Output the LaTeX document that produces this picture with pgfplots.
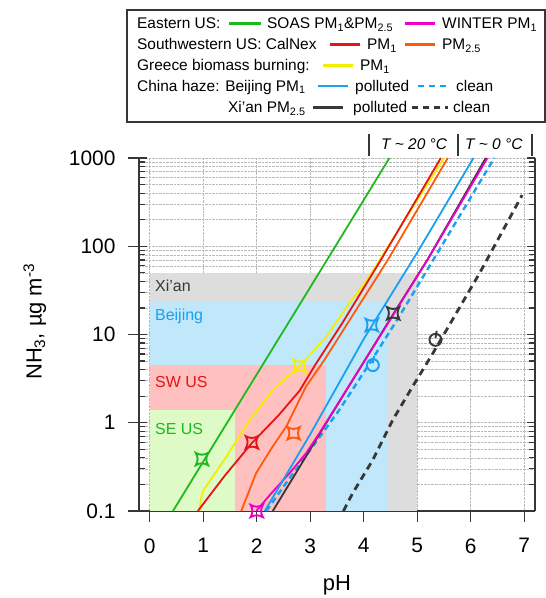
\documentclass[border=0pt]{standalone}
\usepackage{fontspec}
\setmainfont{Liberation Sans}
\usepackage{pgfplots}
\pgfplotsset{compat=1.18}
\definecolor{cgreen}{RGB}{30,185,30}
\definecolor{cmag}{RGB}{235,0,200}
\definecolor{cred}{RGB}{230,20,20}
\definecolor{corange}{RGB}{255,90,10}
\definecolor{cyellow}{RGB}{240,240,0}
\definecolor{cblue}{RGB}{25,160,240}
\definecolor{cblack}{RGB}{55,55,55}
\definecolor{rgray}{RGB}{221,221,221}
\definecolor{rblue}{RGB}{192,232,250}
\definecolor{rpink}{RGB}{255,192,192}
\definecolor{rgreen}{RGB}{222,250,198}
\pgfdeclareplotmark{cstar}{%
 \pgfpathmoveto{\pgfqpoint{\pgfplotmarksize}{\pgfplotmarksize}}%
 \pgfpathquadraticcurveto{\pgfqpoint{0pt}{0.4\pgfplotmarksize}}{\pgfqpoint{-\pgfplotmarksize}{\pgfplotmarksize}}%
 \pgfpathquadraticcurveto{\pgfqpoint{-0.4\pgfplotmarksize}{0pt}}{\pgfqpoint{-\pgfplotmarksize}{-\pgfplotmarksize}}%
 \pgfpathquadraticcurveto{\pgfqpoint{0pt}{-0.4\pgfplotmarksize}}{\pgfqpoint{\pgfplotmarksize}{-\pgfplotmarksize}}%
 \pgfpathquadraticcurveto{\pgfqpoint{0.4\pgfplotmarksize}{0pt}}{\pgfqpoint{\pgfplotmarksize}{\pgfplotmarksize}}%
 \pgfpathclose\pgfusepathqstroke}
\pgfdeclareplotmark{qcirc}{%
 \pgfpathcircle{\pgfpointorigin}{\pgfplotmarksize}\pgfusepathqstroke
 \pgfpathmoveto{\pgfqpoint{0pt}{0.3\pgfplotmarksize}}%
 \pgfpathlineto{\pgfqpoint{0.2\pgfplotmarksize}{1.5\pgfplotmarksize}}\pgfusepathqstroke}
\newcommand\lf{\fontsize{15.5}{18}\selectfont}
\begin{document}
\begin{tikzpicture}
\path[use as bounding box] (0,0) rectangle (546bp,598bp);
\begin{axis}[at={(139bp,87bp)}, anchor=south west, scale only axis,
  width=396bp, height=353bp,
  xmin=-0.2, xmax=7.2, ymin=0.1, ymax=1000, ymode=log,
  axis x line*=bottom, axis y line*=left,
  axis line style={line width=1.3bp, cblack},
  tick align=outside, major tick length=11bp, minor tick length=0pt,
  tick style={line width=1.2bp, cblack},
  xtick={0,...,7}, xticklabels={0,1,2,3,4,5,6,7},
  ytick={0.1,1,10,100,1000}, yticklabels={0.1,1,10,100,1000},
  xmajorgrids, ymajorgrids, yminorgrids,
  major grid style={densely dotted, gray!55, line width=0.6bp},
  minor grid style={densely dotted, gray!55, line width=0.6bp},
  ticklabel style={font=\fontsize{21}{25}\selectfont},
  xticklabel style={yshift=-13bp},
  yticklabel style={xshift=-9bp},
  /pgf/number format/assume math mode=true,
  clip mode=individual]
\addplot[fill=rgray, draw=none] coordinates {(0,0.1)(5,0.1)(5,50)(0,50)} -- cycle;
\addplot[fill=rblue, draw=none] coordinates {(0,0.1)(4.45,0.1)(4.45,23.5)(0,23.5)} -- cycle;
\addplot[fill=rpink, draw=none] coordinates {(0,0.1)(3.3,0.1)(3.3,4.5)(0,4.5)} -- cycle;
\addplot[fill=rgreen, draw=none] coordinates {(0,0.1)(1.6,0.1)(1.6,1.39)(0,1.39)} -- cycle;
% Xi'an clean
\addplot[cblack, line width=2.8bp, dash pattern=on 7bp off 5bp] coordinates {(3.62,0.1)(3.79,0.158)(4.17,0.38)(4.54,1.07)(4.91,2.56)(5.29,6.1)(6.16,49)(6.96,380)};
% Beijing clean
\addplot[cblue, line width=2.4bp, dash pattern=on 6bp off 4bp] coordinates {(2.18,0.1)(2.6,0.23)(3.05,0.54)(3.54,1.39)(4.1,4.6)(4.66,15.9)(5.5,112)(6.44,1000)};
% Xi'an polluted
\addplot[cblack, line width=1.8bp] coordinates {(2.3,0.1)(2.7,0.25)(3.17,0.74)(4.55,17)(5.2,72)(6.28,1000)};
% WINTER
\addplot[cmag, line width=1.8bp] coordinates {(1.99,0.1)(2.27,0.158)(2.61,0.267)(2.92,0.45)(3.17,0.76)(4.2,7.6)(5.19,70)(6.31,1000)};
% Beijing polluted
\addplot[cblue, line width=1.8bp] coordinates {(2.15,0.1)(3.0,0.74)(4.0,8.9)(5.0,85)(6.05,1000)};
% CalNex PM2.5
\addplot[corange, line width=1.8bp] coordinates {(1.71,0.1)(1.99,0.27)(2.30,0.54)(2.55,0.9)(2.92,2.57)(3.26,5.1)(4.45,70)(5.57,1000)};
% Greece
\addplot[cyellow, line width=1.8bp] coordinates {(0.93,0.1)(0.96,0.14)(1.0,0.17)(1.43,0.41)(1.87,1.07)(2.30,2.35)(2.80,4.4)(3.30,9.4)(3.73,22.6)(4.04,39.8)(5.50,1000)};
% CalNex PM1
\addplot[cred, line width=1.8bp] coordinates {(0.90,0.1)(1.4,0.25)(1.91,0.59)(2.4,1.2)(2.8,2.3)(3.09,4.5)(3.6,13.5)(4.32,70)(5.44,1000)};
% SOAS
\addplot[cgreen, line width=1.8bp] coordinates {(0.435,0.1)(1.5,1.13)(2.5,11.0)(3.5,107)(4.48,1000)};
% markers
\addplot[only marks, mark=cstar, mark size=6.2bp, cgreen, line width=1.9bp] coordinates {(0.976,0.388)};
\addplot[only marks, mark=cstar, mark size=6.2bp, cred, line width=1.9bp] coordinates {(1.91,0.60)};
\addplot[only marks, mark=cstar, mark size=6.2bp, corange, line width=1.9bp] coordinates {(2.69,0.76)};
\addplot[only marks, mark=cstar, mark size=6.2bp, cyellow, line width=1.9bp] coordinates {(2.80,4.4)};
\addplot[only marks, mark=cstar, mark size=6.2bp, cmag, line width=1.9bp] coordinates {(2.0,0.1)};
\addplot[only marks, mark=cstar, mark size=6.2bp, cblue, line width=1.9bp] coordinates {(4.15,12.8)};
\addplot[only marks, mark=cstar, mark size=6.2bp, cblack, line width=1.9bp] coordinates {(4.55,17.4)};
\addplot[only marks, mark=qcirc, mark size=6bp, cblue, line width=1.9bp] coordinates {(4.17,4.5)};
\addplot[only marks, mark=qcirc, mark size=6bp, cblack, line width=1.9bp] coordinates {(5.34,8.7)};
\end{axis}
\begin{axis}[at={(139bp,87bp)}, anchor=south west, scale only axis,
  width=396bp, height=353bp,
  xmin=-0.2, xmax=7.2, ymin=0.1, ymax=1000, ymode=log,
  axis x line=none, axis y line=box,
  axis line style={line width=1.3bp, cblack},
  tick align=inside, major tick length=8bp, minor tick length=6bp,
  tick style={line width=1.2bp, cblack},
  xtick=\empty, ytick={0.1,1,10,100,1000}, yticklabels={,,,,}]
\end{axis}
\begin{scope}[x=1bp,y=-1bp,yshift=598bp]
\draw[cblack, line width=1.2bp] (127,10) rectangle (545,122);
\node[anchor=base west, inner sep=0] at (137,29) {\lf Eastern US:};
\draw[cgreen, line width=2.4bp] (229,23.5) -- (261,23.5);
\node[anchor=base west, inner sep=0] at (267,29) {\lf SOAS PM\textsubscript{1}\&PM\textsubscript{2.5}};
\draw[cmag, line width=2.4bp] (405,23.5) -- (435,23.5);
\node[anchor=base west, inner sep=0] at (442,29) {\lf WINTER PM\textsubscript{1}};
\node[anchor=base west, inner sep=0] at (137,50) {\lf Southwestern US: CalNex};
\draw[cred, line width=2.4bp] (330,44.5) -- (360,44.5);
\node[anchor=base west, inner sep=0] at (367,50) {\lf PM\textsubscript{1}};
\draw[corange, line width=2.4bp] (405,44.5) -- (435,44.5);
\node[anchor=base west, inner sep=0] at (442,50) {\lf PM\textsubscript{2.5}};
\node[anchor=base west, inner sep=0] at (137,71) {\lf Greece biomass burning:};
\draw[cyellow, line width=2.4bp] (323,65.5) -- (353,65.5);
\node[anchor=base west, inner sep=0] at (360,71) {\lf PM\textsubscript{1}};
\node[anchor=base west, inner sep=0] at (137,91.5) {\lf China haze: Beijing PM\textsubscript{1}};
\draw[cblue, line width=2.4bp] (318,86) -- (348,86);
\node[anchor=base west, inner sep=0] at (355,91.5) {\lf polluted};
\draw[cblue, line width=2.6bp, dash pattern=on 6bp off 5bp] (418,86) -- (449,86);
\node[anchor=base west, inner sep=0] at (456,91.5) {\lf clean};
\node[anchor=base west, inner sep=0] at (228,113) {\lf Xi'an PM\textsubscript{2.5}};
\draw[cblack, line width=2.4bp] (313,107.5) -- (343,107.5);
\node[anchor=base west, inner sep=0] at (353,113) {\lf polluted};
\draw[cblack, line width=2.6bp, dash pattern=on 6bp off 5bp] (412,107.5) -- (448,107.5);
\node[anchor=base west, inner sep=0] at (453,113) {\lf clean};
% temperature annotation
\draw[cblack, line width=1.4bp] (369,134) -- (369,156) (458,134) -- (458,156) (532,134) -- (532,156);
\node[anchor=base west, inner sep=0] at (381,150) {\lf\itshape T \textasciitilde{} 20 °C};
\node[anchor=base west, inner sep=0] at (465,150) {\lf\itshape T \textasciitilde{} 0 °C};
% region labels
\node[anchor=base west, inner sep=0, text=cblack] at (155,292) {\fontsize{16}{19}\selectfont Xi'an};
\node[anchor=base west, inner sep=0, text=cblue] at (155,321) {\fontsize{16}{19}\selectfont Beijing};
\node[anchor=base west, inner sep=0, text=cred] at (155,388) {\fontsize{16}{19}\selectfont SW US};
\node[anchor=base west, inner sep=0, text=cgreen] at (155,435) {\fontsize{16}{19}\selectfont SE US};
% axis labels
\node[anchor=base, inner sep=0] at (337,591) {\fontsize{22}{26}\selectfont pH};
\node[anchor=base west, rotate=90, inner sep=0] at (41.5,380) {\fontsize{22}{26}\selectfont NH\textsubscript{3}, µg m\textsuperscript{-3}};
\end{scope}
\end{tikzpicture}
\end{document}
